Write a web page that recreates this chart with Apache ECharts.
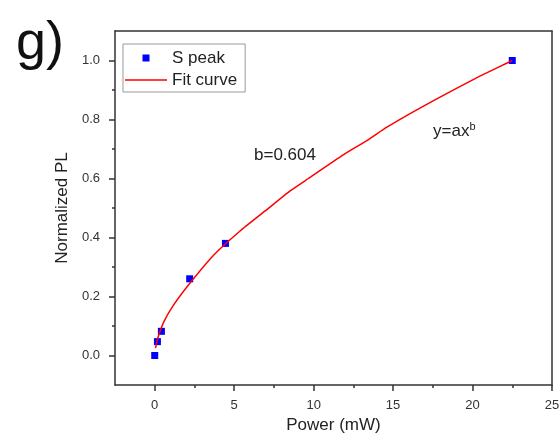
<!DOCTYPE html>
<html>
<head>
<meta charset="utf-8">
<script src="https://cdn.jsdelivr.net/npm/echarts@6/dist/echarts.min.js"></script>
<style>
html,body{margin:0;padding:0;background:#fff;}
#chart{width:559px;height:444px;}
</style>
</head>
<body>
<div id="chart"></div>
<script>
// Measured data (S peak)
const peakX = [0, 0.17, 0.42, 2.2, 4.45, 22.5];
const peakY = [0, 0.047, 0.082, 0.26, 0.38, 1.0];
// Fit curve
const fitX = [0.05, 0.2, 0.58, 1.17, 2.21, 3.72, 5.39, 6.95, 8.52, 9.67, 11.86, 13.43, 14.58, 16.46, 18.75, 20.43, 22.5];
const fitY = [0.025, 0.06, 0.115, 0.17, 0.245, 0.341, 0.423, 0.49, 0.558, 0.6, 0.68, 0.731, 0.773, 0.832, 0.899, 0.946, 1.0];
// Ticks
const xMajor = [0, 5, 10, 15, 20, 25];
const xMinor = [2.5, 7.5, 12.5, 17.5, 22.5];
const yMajor = [0, 0.2, 0.4, 0.6, 0.8, 1.0];
const yMinor = [0.1, 0.3, 0.5, 0.7, 0.9];

const FONT = 'Liberation Sans, Arial, sans-serif';
const AX = '#333';

const chart = echarts.init(document.getElementById('chart'), null, {renderer: 'canvas'});
const hidden = {show: false};
const option = {
  animation: false,
  backgroundColor: '#fff',
  title: {
    text: 'g)', left: 11, top: 12,
    textStyle: {fontFamily: FONT, fontSize: 54, fontWeight: 'normal', color: '#111'}
  },
  legend: {
    orient: 'vertical', left: 123, top: 44,
    padding: [5, 8, 3, 2], itemGap: 4,
    itemWidth: 42, itemHeight: 8,
    borderColor: '#999', borderWidth: 1,
    textStyle: {fontFamily: FONT, fontSize: 17, color: '#222', lineHeight: 18},
    data: [
      {name: 'S peak', icon: 'path://M0,0M42,8M17.5,0.5h7v7h-7z', itemStyle: {color: '#0000ff', opacity: 1}},
      {name: 'Fit curve', icon: 'path://M0,0M42,8M0,3.25h42v1.5h-42z', itemStyle: {color: '#ff0000'}}
    ]
  },
  grid: {left: 115, right: 7, top: 31, bottom: 59, outerBoundsMode: 'none', containLabel: false},
  xAxis: [
    {
      type: 'value', min: -2.5, max: 25, position: 'bottom',
      name: 'Power (mW)', nameLocation: 'middle', nameGap: 31,
      nameTextStyle: {fontFamily: FONT, fontSize: 17, color: '#222'},
      axisLine: {show: true, onZero: false, lineStyle: {color: AX, width: 1.5}},
      axisTick: {show: true, inside: false, length: 6, customValues: xMajor, lineStyle: {color: AX, width: 1.5}},
      axisLabel: {show: true, customValues: xMajor, margin: 14, fontFamily: FONT, fontSize: 13, color: '#333'},
      splitLine: hidden
    },
    {
      type: 'value', min: -2.5, max: 25, position: 'bottom',
      axisLine: {show: false, onZero: false},
      axisTick: {show: true, inside: false, length: 3, customValues: xMinor, lineStyle: {color: AX, width: 1.5}},
      axisLabel: hidden, splitLine: hidden
    },
    {
      type: 'value', min: -2.5, max: 25, position: 'top',
      axisLine: {show: true, onZero: false, lineStyle: {color: AX, width: 1.5}},
      axisTick: hidden, axisLabel: hidden, splitLine: hidden
    }
  ],
  yAxis: [
    {
      type: 'value', min: -0.1, max: 1.1, position: 'left',
      name: 'Normalized PL', nameLocation: 'middle', nameGap: 34,
      nameTextStyle: {fontFamily: FONT, fontSize: 17, color: '#222'},
      axisLine: {show: true, onZero: false, lineStyle: {color: AX, width: 1.5}},
      axisTick: {show: true, inside: false, length: 6, customValues: yMajor, lineStyle: {color: AX, width: 1.5}},
      axisLabel: {show: true, customValues: yMajor, margin: 15, fontFamily: FONT, fontSize: 13, color: '#333',
        formatter: v => v.toFixed(1)},
      splitLine: hidden
    },
    {
      type: 'value', min: -0.1, max: 1.1, position: 'left',
      axisLine: {show: false, onZero: false},
      axisTick: {show: true, inside: false, length: 3, customValues: yMinor, lineStyle: {color: AX, width: 1.5}},
      axisLabel: hidden, splitLine: hidden
    },
    {
      type: 'value', min: -0.1, max: 1.1, position: 'right',
      axisLine: {show: true, onZero: false, lineStyle: {color: AX, width: 1.5}},
      axisTick: hidden, axisLabel: hidden, splitLine: hidden
    }
  ],
  graphic: [
    {type: 'text', left: 254, top: 147,
     style: {text: 'b=0.604', fontFamily: FONT, fontSize: 17, fill: '#222'}},
    {type: 'text', left: 433, top: 121,
     style: {text: 'y=ax{s|b}', fontFamily: FONT, fontSize: 17, fill: '#222',
       rich: {s: {fontFamily: FONT, fontSize: 11, fill: '#222', verticalAlign: 'top', padding: [0, 0, 10, 0]}}}}
  ],
  series: [
    {
      name: 'S peak', type: 'scatter', xAxisIndex: 0, yAxisIndex: 0,
      symbol: 'rect', symbolSize: 7, z: 2,
      itemStyle: {color: '#0000ff', opacity: 1},
      data: peakX.map((x, i) => [x, peakY[i]])
    },
    {
      name: 'Fit curve', type: 'line', xAxisIndex: 0, yAxisIndex: 0,
      symbol: 'none', smooth: 0.15, z: 3,
      lineStyle: {color: '#ff0000', width: 1.5},
      itemStyle: {color: '#ff0000'},
      data: fitX.map((x, i) => [x, fitY[i]])
    }
  ]
};
chart.setOption(option);
</script>
</body>
</html>
